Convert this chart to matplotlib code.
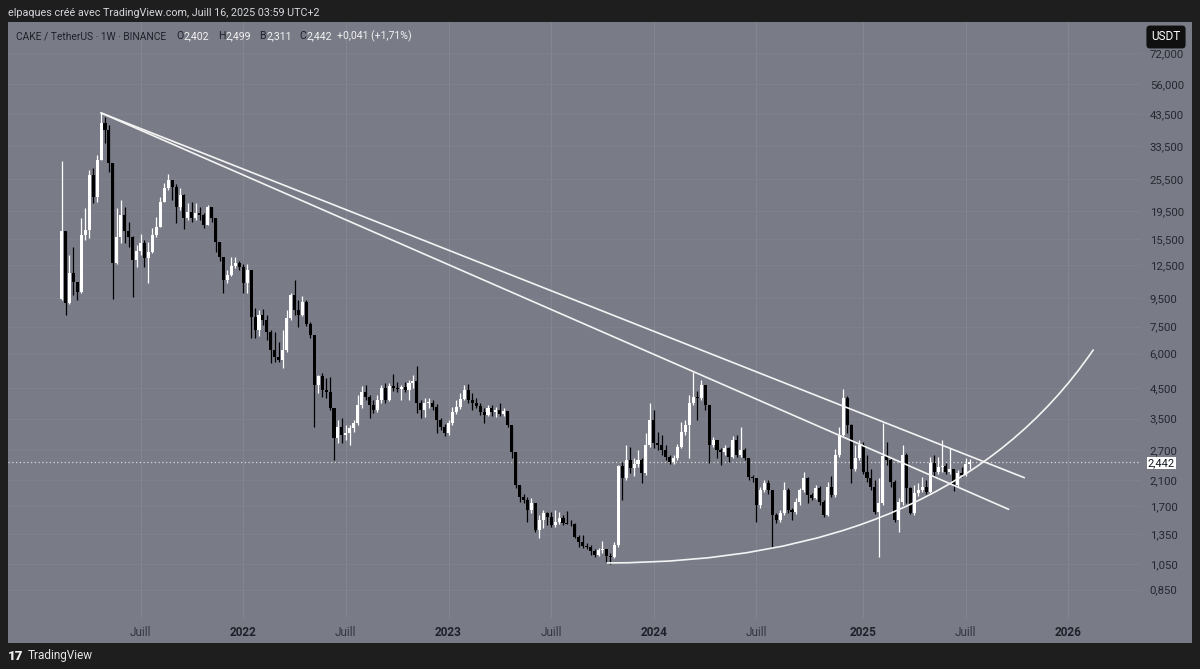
"""CAKE / TetherUS weekly candles (TradingView-style snapshot) with drawn trendlines and arc."""
import matplotlib

matplotlib.use("Agg")
import matplotlib.pyplot as plt
import matplotlib.dates as mdates
import matplotlib.transforms as mtransforms
import numpy as np
import pandas as pd
from matplotlib.patches import PathPatch, Rectangle
from matplotlib.path import Path
from matplotlib.ticker import FuncFormatter, NullLocator

plt.rcParams["font.family"] = ["Roboto", "DejaVu Sans"]

# ---- data (weekly candles, open of each week = previous close) ----
FIRST_WEEK = "2021-02-15"
FIRST_OPEN = 9.42

closes = [
    16.53, 9.11, 11.68, 10.84, 9.98, 15.99, 16.67, 26.28, 21.9, 29.75,
    40.4, 38.13, 29.02, 12.69, 15.73, 18.87, 16.53, 15.73, 13.0, 14.0,
    14.97, 13.22, 13.89, 16.0, 17.09, 21.0, 23.6, 25.2, 23.8, 20.17,
    22.3, 18.41, 19.34, 18.41, 19.2, 18.87, 17.37, 20.17, 18.41, 15.1,
    13.33, 11.02, 11.48, 12.37, 12.69, 12.27, 10.75, 11.97, 8.12, 7.29,
    8.25, 7.92, 7.17, 6.18, 5.82, 5.69, 6.18, 8.05, 9.73, 8.6,
    8.25, 9.19, 7.65, 6.99, 4.62, 4.98, 4.44, 4.36, 3.82, 2.98,
    3.27, 3.05, 3.1, 3.24, 3.38, 3.92, 4.36, 4.18, 3.92, 3.76,
    4.08, 4.51, 4.08, 4.58, 4.51, 4.47, 4.55, 4.44, 4.7, 4.78,
    3.98, 3.76, 3.98, 4.0, 3.85, 3.46, 3.27, 3.1, 3.38, 3.7,
    3.85, 4.12, 4.44, 4.08, 3.98, 3.88, 3.7, 3.6, 3.82, 3.7,
    3.76, 3.63, 3.73, 3.32, 2.65, 2.02, 1.83, 1.78, 1.64, 1.74,
    1.39, 1.51, 1.6, 1.55, 1.45, 1.49, 1.54, 1.47, 1.465, 1.46,
    1.31, 1.26, 1.22, 1.21, 1.17, 1.13, 1.18, 1.19, 1.12, 1.11,
    1.23, 2.37, 2.14, 2.49, 2.33, 2.4, 2.49, 2.23, 2.81, 3.46,
    2.86, 2.81, 2.7, 2.55, 2.44, 2.53, 2.77, 3.13, 3.32, 3.98,
    4.18, 4.15, 4.62, 3.92, 2.81, 2.93, 2.7, 2.65, 2.74, 2.55,
    2.93, 2.59, 2.7, 2.53, 2.16, 2.14, 1.71, 1.94, 2.05, 1.94,
    1.58, 1.51, 1.6, 1.94, 1.64, 1.62, 1.76, 1.94, 2.14, 1.86,
    1.81, 1.97, 1.76, 1.58, 1.99, 1.86, 2.59, 3.05, 4.15, 3.32,
    2.31, 2.53, 2.81, 2.25, 2.14, 1.99, 1.62, 1.74, 2.57, 2.49,
    2.07, 1.51, 1.76, 2.59, 1.97, 1.6, 1.89, 1.94, 1.99, 1.91,
    2.42, 2.25, 2.35, 2.37, 2.25, 2.31, 2.02, 2.23, 2.2, 2.402,
    2.442,
]

highs = [
    29.5, 16.5, 13.55, 14.48, 10.84, 18.41, 20.0, 27.39, 27.85, 31.0,
    43.9, 42.47, 39.74, 29.0, 20.0, 21.37, 20.17, 17.81, 15.86, 14.72,
    16.12, 15.35, 15.1, 16.95, 18.56, 21.9, 24.6, 26.5, 25.2, 24.4,
    23.6, 22.45, 20.84, 21.0, 20.84, 20.17, 19.2, 20.5, 20.17, 18.4,
    15.1, 13.33, 11.97, 13.33, 13.33, 12.9, 12.57, 12.57, 11.97, 8.74,
    8.6, 8.67, 8.25, 7.29, 7.17, 6.6, 7.29, 8.6, 9.9, 11.02,
    9.34, 9.65, 9.34, 7.78, 6.99, 5.02, 5.1, 4.9, 4.94, 3.82,
    3.46, 3.52, 3.32, 3.32, 3.46, 4.26, 4.58, 4.62, 4.26, 4.08,
    4.26, 4.62, 4.7, 4.7, 5.06, 4.74, 4.62, 4.74, 4.82, 5.02,
    5.41, 4.08, 4.15, 4.15, 4.08, 3.95, 3.52, 3.35, 3.46, 3.85,
    4.08, 4.33, 4.62, 4.66, 4.33, 4.15, 4.0, 3.82, 3.92, 3.92,
    3.85, 3.98, 3.82, 3.73, 3.32, 2.65, 2.02, 1.87, 1.83, 1.81,
    1.74, 1.58, 1.64, 1.62, 1.62, 1.64, 1.62, 1.58, 1.63, 1.51,
    1.47, 1.34, 1.34, 1.25, 1.23, 1.19, 1.2, 1.27, 1.19, 1.15,
    1.26, 2.39, 2.44, 2.81, 2.77, 2.52, 2.7, 2.52, 3.1, 3.98,
    3.76, 3.13, 3.05, 2.81, 2.59, 2.59, 2.84, 3.4, 3.46, 4.26,
    5.15, 4.4, 4.82, 4.62, 3.92, 3.0, 2.93, 2.74, 2.81, 2.77,
    3.03, 3.05, 3.27, 2.74, 2.53, 2.2, 2.14, 1.99, 2.11, 2.11,
    1.94, 1.6, 1.64, 2.07, 1.97, 1.67, 1.81, 1.97, 2.25, 2.16,
    1.89, 2.02, 2.0, 1.78, 2.07, 2.18, 2.72, 3.27, 4.47, 4.22,
    3.35, 2.81, 2.93, 2.88, 2.59, 2.31, 2.11, 2.14, 3.38, 2.88,
    2.53, 2.11, 1.81, 2.81, 2.63, 1.99, 2.02, 2.05, 2.16, 2.11,
    2.55, 2.59, 2.55, 2.93, 2.42, 2.74, 2.31, 2.29, 2.35, 2.52,
    2.499,
]

lows = [
    9.34, 8.25, 9.05, 9.73, 9.34, 9.9, 15.35, 15.6, 20.84, 21.0,
    29.75, 34.24, 26.94, 9.42, 12.58, 14.97, 14.97, 14.48, 9.58, 12.27,
    13.55, 12.27, 10.75, 13.78, 15.73, 17.05, 21.0, 23.2, 21.37, 17.66,
    19.67, 16.81, 18.1, 17.8, 18.1, 18.1, 16.95, 17.37, 17.81, 13.89,
    12.9, 9.9, 10.75, 11.4, 12.17, 11.97, 9.9, 9.9, 6.84, 6.84,
    6.95, 7.6, 6.71, 5.55, 5.6, 5.6, 5.32, 6.07, 7.9, 8.25,
    7.47, 8.18, 7.53, 6.84, 3.27, 4.33, 4.2, 4.15, 3.76, 2.49,
    2.86, 2.86, 2.93, 2.81, 3.13, 3.32, 3.82, 4.08, 3.52, 3.66,
    3.7, 4.0, 3.98, 4.05, 4.4, 4.36, 4.08, 4.36, 4.08, 4.51,
    3.66, 3.52, 3.55, 3.82, 3.76, 3.1, 3.19, 3.03, 3.05, 3.32,
    3.63, 3.79, 4.08, 4.0, 3.76, 3.82, 3.6, 3.38, 3.57, 3.57,
    3.55, 3.57, 3.57, 3.27, 2.53, 1.97, 1.76, 1.74, 1.49, 1.6,
    1.37, 1.3, 1.42, 1.45, 1.43, 1.43, 1.46, 1.45, 1.46, 1.44,
    1.3, 1.21, 1.2, 1.19, 1.13, 1.11, 1.12, 1.15, 1.06, 1.05,
    1.1, 1.21, 1.78, 2.1, 2.23, 2.17, 2.35, 2.05, 2.2, 2.77,
    2.74, 2.7, 2.6, 2.49, 2.4, 2.4, 2.49, 2.74, 3.05, 2.53,
    3.92, 3.46, 4.08, 3.76, 2.42, 2.77, 2.53, 2.38, 2.59, 2.44,
    2.53, 2.55, 2.55, 2.49, 2.11, 2.07, 1.49, 1.67, 1.91, 1.88,
    1.2, 1.47, 1.49, 1.58, 1.6, 1.51, 1.59, 1.71, 1.91, 1.74,
    1.78, 1.8, 1.71, 1.55, 1.56, 1.83, 1.83, 2.55, 3.03, 3.1,
    2.05, 2.27, 2.49, 2.21, 2.07, 1.94, 1.59, 1.11, 1.71, 2.38,
    1.99, 1.49, 1.37, 1.71, 1.74, 1.59, 1.58, 1.85, 1.91, 1.88,
    1.89, 2.16, 2.21, 2.25, 2.21, 2.21, 1.92, 1.99, 2.16, 2.18,
    2.311,
]

LAST_PRICE = 2.442
LEGEND_OHLC = [("O", "2,402"), ("H", "2,499"), ("B", "2,311"), ("C", "2,442")]
LEGEND_CHANGE = "+0,041 (+1,71%)"

price_ticks = [72, 56, 43.5, 33.5, 25.5, 19.5, 15.5, 12.5, 9.5, 7.5,
               6.0, 4.5, 3.5, 2.7, 2.1, 1.7, 1.35, 1.05, 0.85]

time_tick_dates = ["2021-07-05", "2022-01-03", "2022-07-04", "2023-01-02", "2023-07-03",
                   "2024-01-01", "2024-07-01", "2025-01-06", "2025-07-07", "2026-01-05"]
time_tick_labels = ["Juill", "2022", "Juill", "2023", "Juill",
                    "2024", "Juill", "2025", "Juill", "2026"]

# user drawings: two descending trendlines from the ATH ...
trend_upper_dates = ["2021-04-26", "2025-10-19"]
trend_upper_prices = [44.0, 2.147]
trend_lower_dates = ["2021-04-26", "2025-09-21"]
trend_lower_prices = [44.0, 1.653]
# ... and a curve tool (start, control, end anchors)
curve_dates = ["2023-10-10", "2025-06-04", "2026-02-18"]
curve_prices = [1.06, 1.06, 6.18]

# view window
X_START, X_END = "2020-11-12", "2026-05-12"
Y_MIN, Y_MAX = 0.672, 93.4

BG = "#797c87"
FRAME = "#1e1e1e"
GRID = "#83868f"
DARK_TXT = "#1f2129"

# ---- figure ----
W, H = 1200, 669
fig = plt.figure(figsize=(W / 100, H / 100), dpi=100, facecolor=FRAME)
fig.patches.append(Rectangle((8 / W, 26 / H), 1184 / W, 621 / H,
                             transform=fig.transFigure, facecolor=BG,
                             edgecolor="none", zorder=-10))
ax = fig.add_axes([8 / W, 51 / H, 1132 / W, 596 / H])
ax.set_zorder(1)
ax.patch.set_alpha(0)

weeks = pd.date_range(FIRST_WEEK, periods=len(closes), freq="7D")
x = mdates.date2num(weeks)
o = np.array([FIRST_OPEN] + closes[:-1])
c = np.array(closes)
hi = np.maximum(np.array(highs), np.maximum(o, c))
lo = np.minimum(np.array(lows), np.minimum(o, c))
up = c >= o
cols = np.where(up, "#ffffff", "#000000")

ax.set_yscale("log")
ax.yaxis.set_minor_locator(NullLocator())

ax.vlines(x, lo, hi, colors=cols, linewidth=0.9, zorder=3)
bot = np.minimum(o, c)
top = np.maximum(np.maximum(o, c), bot * 1.006)
ax.bar(x, top - bot, bottom=bot, width=5.4, color=cols, linewidth=0, zorder=4)

# drawings
line_kw = dict(color="#f4f4f4", linewidth=1.2, solid_capstyle="round", zorder=5)
ax.plot(pd.to_datetime(trend_upper_dates), trend_upper_prices, **line_kw)
ax.plot(pd.to_datetime(trend_lower_dates), trend_lower_prices, **line_kw)
curve_path = Path(list(zip(mdates.date2num(pd.to_datetime(curve_dates)), curve_prices)),
                  [Path.MOVETO, Path.CURVE3, Path.CURVE3])
ax.add_patch(PathPatch(curve_path, facecolor="none", edgecolor="#f4f4f4",
                       linewidth=1.2, capstyle="round", zorder=5))

# last price dotted line
ax.axhline(LAST_PRICE, color="#d9d9d9", linestyle=(0, (1, 2)), linewidth=0.9, zorder=2)

# grid
for d in time_tick_dates:
    ax.axvline(pd.Timestamp(d), color=GRID, linewidth=0.8, zorder=1)
for p in price_ticks:
    ax.axhline(p, color=GRID, linewidth=0.6, alpha=0.6, zorder=1)

ax.set_xlim(pd.Timestamp(X_START), pd.Timestamp(X_END))
ax.set_ylim(Y_MIN, Y_MAX)

# axes / ticks
for s in ax.spines.values():
    s.set_visible(False)
ax.yaxis.tick_right()
ax.set_yticks(price_ticks)
ax.yaxis.set_major_formatter(FuncFormatter(lambda v, _: f"{v:.3f}".replace(".", ",")))
ax.tick_params(axis="y", length=0, pad=7, labelsize=8.2, labelcolor="#262830")
ax.set_xticks(pd.to_datetime(time_tick_dates))
ax.set_xticklabels(time_tick_labels)
ax.tick_params(axis="x", length=0, pad=5.5, labelsize=8.5)
for lab in ax.get_xticklabels():
    if lab.get_text().isdigit():
        lab.set_fontweight("bold")
        lab.set_color(DARK_TXT)
    else:
        lab.set_color("#33363f")

# last price box on the scale
tr = mtransforms.blended_transform_factory(fig.transFigure, ax.transData)
ax.text(1161.5 / W, LAST_PRICE * 0.995, f"{LAST_PRICE:.3f}".replace(".", ","), transform=tr,
        ha="center", va="center", fontsize=7.9, color="#131722", zorder=10,
        bbox=dict(boxstyle="square,pad=0.1", facecolor="white", edgecolor="none"))

# currency badge
fig.text(1166 / W, 1 - 37 / H, "USDT", ha="center", va="center", fontsize=8.5,
         color="white", bbox=dict(boxstyle="round,pad=0.42,rounding_size=0.3",
                                  facecolor="#101010", edgecolor="none"))

# header bar
fig.text(8 / W, 1 - 13 / H, "elpaques créé avec TradingView.com, Juill 16, 2025 03:59 UTC+2",
         ha="left", va="center", fontsize=7.75, color="#d6d8de")

# legend line: symbol + OHLC of last candle
yl = 1 - 36 / H
fig.text(16 / W, yl, "CAKE / TetherUS · 1W · BINANCE", ha="left", va="center",
         fontsize=7.4, color=DARK_TXT)
for (letter, val), px in zip(LEGEND_OHLC, [176, 218, 259, 299]):
    fig.text(px / W, yl, letter, ha="left", va="center", fontsize=7.6, color=DARK_TXT)
    fig.text((px + 7.5) / W, yl, val, ha="left", va="center", fontsize=7.6, color="#f2f2f2")
fig.text(337 / W, yl, LEGEND_CHANGE, ha="left", va="center", fontsize=7.6, color="#f2f2f2")

# footer logo
fig.text(8 / W, 1 - 656 / H, "17", ha="left", va="center", fontsize=9.5,
         fontweight="heavy", color="#f0f0f0")
fig.text(28 / W, 1 - 656 / H, "TradingView", ha="left", va="center", fontsize=8.5,
         color="#e6e6e6")

fig.savefig("out.png", dpi=100, facecolor=FRAME)
